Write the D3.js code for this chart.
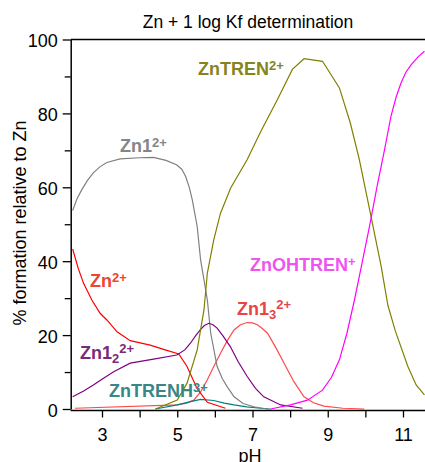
<!DOCTYPE html>
<html>
<head>
<meta charset="utf-8">
<script src="https://cdn.jsdelivr.net/npm/d3@7"></script>
<style>
  body { margin: 0; background: #fff; }
  text { font-family: "Liberation Sans", Arial, Helvetica, sans-serif; }
</style>
</head>
<body>
<script>
// species distribution (pH, % of Zn)
const znPH = [2.22, 2.37, 2.51, 2.73, 2.95, 3.13, 3.40, 3.75, 4.28, 4.68, 5.04, 5.26, 5.53, 5.80, 6.28];
const znPct = [43.3, 38, 34, 29.5, 25.9, 24.1, 20.9, 18.5, 17.3, 16, 14.9, 11.5, 5.5, 1.8, 0.2];

const zn1PH = [2.22, 2.34, 2.46, 2.61, 2.77, 2.95, 3.13, 3.48, 4.0, 4.37, 4.70, 4.98, 5.12, 5.22, 5.32, 5.40, 5.53, 5.62, 5.80, 5.89, 6.06, 6.20, 6.33, 6.51, 6.75, 7.04, 7.40];
const zn1Pct = [53.7, 57, 59.3, 61.8, 63.9, 65.6, 66.7, 67.7, 68, 68.1, 67.3, 66.1, 64.9, 63, 60, 56.6, 49.4, 40.4, 29.5, 20.5, 11.5, 8.2, 6, 3.3, 1.5, 0.6, 0];

const zn12PH = [2.22, 2.50, 2.77, 3.05, 3.31, 3.75, 4.37, 4.99, 5.20, 5.35, 5.50, 5.61, 5.72, 5.84, 5.95, 6.06, 6.22, 6.41, 6.62, 6.86, 7.08, 7.30, 7.75, 8.33];
const zn12Pct = [3.3, 4.8, 6.5, 8.4, 10.1, 12.4, 13.5, 14.6, 16, 17.8, 20, 21.4, 22.6, 23.2, 22.8, 21.9, 19.7, 16.9, 12.8, 8.8, 5.6, 3.3, 1.1, 0.2];

const zn13PH = [2.28, 5.0, 5.25, 5.44, 5.62, 5.80, 5.97, 6.15, 6.33, 6.51, 6.68, 6.86, 7.0, 7.13, 7.26, 7.40, 7.62, 7.84, 8.10, 8.37, 8.62, 8.90, 9.40, 9.97];
const zn13Pct = [0.2, 1.1, 1.6, 2.4, 4.6, 7.9, 11.5, 15.1, 18.5, 21.4, 22.8, 23.4, 23.3, 22.8, 21.8, 20.5, 16.6, 12.4, 7.4, 3.3, 1.7, 0.8, 0.2, 0];

const trenHPH = [4.42, 5.0, 5.35, 5.62, 5.97, 6.25, 6.51, 6.85, 7.22, 7.48];
const trenHPct = [0, 1.1, 2.0, 2.6, 2.3, 1.6, 1.1, 0.6, 0.2, 0];

const trenPH = [4.42, 5.0, 5.26, 5.53, 5.71, 5.80, 5.97, 6.15, 6.42, 6.86, 7.22, 7.66, 8.06, 8.37, 8.86, 9.31, 9.60, 9.84, 10.15, 10.42, 10.60, 10.80, 11.13, 11.35, 11.57];
const trenPct = [0, 2.4, 7, 16, 26.8, 36.8, 45.8, 53, 59.8, 67.5, 75.1, 83.7, 91.9, 94.8, 94.1, 86.9, 77.4, 67.5, 52.1, 38.6, 28, 21, 11.5, 6.5, 3.8];

const ohTrenPH = [7.48, 8.01, 8.46, 8.86, 9.10, 9.31, 9.51, 9.71, 9.91, 10.11, 10.31, 10.51, 10.68, 10.82, 10.95, 11.08, 11.22, 11.40, 11.57];
const ohTrenPct = [0, 1.1, 2.4, 5.1, 8.6, 13.3, 20.5, 29.5, 39.4, 49.4, 60.2, 70.2, 79.2, 84.5, 88.3, 91.2, 93.2, 95.3, 96.8];

const xTicks = [3, 4, 5, 6, 7, 8, 9, 10, 11];
const xTickLabels = ['3', '', '5', '', '7', '', '9', '', '11'];
const yTicks = [0, 10, 20, 30, 40, 50, 60, 70, 80, 90, 100];
const yTickLabels = ['0', '', '20', '', '40', '', '60', '', '80', '', '100'];

const series = [
  { ph: zn13PH, pct: zn13Pct, color: '#ff4a4a' },
  { ph: trenHPH, pct: trenHPct, color: '#008080' },
  { ph: zn1PH, pct: zn1Pct, color: '#808080' },
  { ph: znPH, pct: znPct, color: '#ff0000' },
  { ph: zn12PH, pct: zn12Pct, color: '#800080' },
  { ph: trenPH, pct: trenPct, color: '#808000' },
  { ph: ohTrenPH, pct: ohTrenPct, color: '#ff00ff' }
];

const W = 425, H = 462;
const svg = d3.select('body').append('svg')
  .attr('width', W)
  .attr('height', H);

const x = d3.scaleLinear().domain([2.168, 11.585]).range([70.7, 425]);
const y = d3.scaleLinear().domain([0, 100]).range([409, 39.5]);

svg.append('defs').append('clipPath').attr('id', 'plot')
  .append('rect').attr('x', 70.7).attr('y', 30).attr('width', W - 70.7).attr('height', 390);

// lines
const line = d3.line()
  .x(d => x(d[0]))
  .y(d => y(d[1]));

svg.append('g').attr('clip-path', 'url(#plot)')
  .selectAll('path')
  .data(series)
  .join('path')
  .attr('d', s => line(s.ph.map((p, i) => [p, s.pct[i]])))
  .attr('fill', 'none')
  .attr('stroke', s => s.color)
  .attr('stroke-width', 1.2);

// axes
const xAxis = svg.append('g')
  .attr('transform', 'translate(0,410.5)')
  .call(d3.axisBottom(x).tickValues(xTicks)
    .tickFormat((d, i) => xTickLabels[i])
    .tickSizeInner(7).tickSizeOuter(0).tickPadding(11));

const yAxis = svg.append('g')
  .attr('transform', 'translate(70.7,0)')
  .call(d3.axisLeft(y).tickValues(yTicks)
    .tickFormat((d, i) => yTickLabels[i])
    .tickSizeInner(8).tickSizeOuter(0).tickPadding(5));

yAxis.selectAll('.tick line').attr('x2', (d, i) => yTickLabels[i] ? -8 : -6);

[xAxis, yAxis].forEach(a => {
  a.select('.domain').attr('stroke', '#000').attr('stroke-width', 1.5);
  a.selectAll('.tick line').attr('stroke', '#000').attr('stroke-width', 1.3);
  a.selectAll('text').attr('font-size', 18).attr('fill', '#000')
    .attr('font-family', '"Liberation Sans", Arial, sans-serif');
});
yAxis.selectAll('text').attr('dy', '0.4em');
xAxis.select('.domain').attr('d', 'M70.7,0H425');

// top frame
svg.append('line')
  .attr('x1', 70.7).attr('x2', W)
  .attr('y1', 39.5).attr('y2', 39.5)
  .attr('stroke', '#000').attr('stroke-width', 1.5);

// title and axis titles
svg.append('text')
  .attr('x', 248).attr('y', 28)
  .attr('text-anchor', 'middle')
  .attr('font-size', 17.5)
  .text('Zn + 1 log Kf determination');

svg.append('text')
  .attr('x', 250).attr('y', 462)
  .attr('text-anchor', 'middle')
  .attr('font-size', 18)
  .text('pH');

svg.append('text')
  .attr('transform', 'translate(26,223) rotate(-90)')
  .attr('text-anchor', 'middle')
  .attr('font-size', 18)
  .text('% formation relative to Zn');

// species labels: base text, subscript, superscript
const labels = [
  { base: 'ZnTREN', sub: '', sup: '2+', x: 198, y: 75, color: '#85851f' },
  { base: 'Zn1', sub: '', sup: '2+', x: 120, y: 152, color: '#858585' },
  { base: 'Zn', sub: '', sup: '2+', x: 90, y: 287, color: '#ee4433' },
  { base: 'ZnOHTREN', sub: '', sup: '+', x: 250, y: 271, color: '#ee55ee' },
  { base: 'Zn1', sub: '3', sup: '2+', x: 237, y: 315, color: '#e84444' },
  { base: 'Zn1', sub: '2', sup: '2+', x: 80, y: 359, color: '#7a2a7a' },
  { base: 'ZnTRENH', sub: '', sup: '3+', x: 109, y: 397, color: '#3a8585' }
];

labels.forEach(l => {
  const t = svg.append('text')
    .attr('x', l.x).attr('y', l.y)
    .attr('font-size', 18)
    .attr('font-weight', 'bold')
    .attr('fill', l.color);
  t.append('tspan').text(l.base);
  if (l.sub) {
    t.append('tspan').attr('font-size', 13).attr('dy', 4).text(l.sub);
    t.append('tspan').attr('font-size', 13).attr('dy', -10).text(l.sup);
  } else {
    t.append('tspan').attr('font-size', 13).attr('dy', -5).text(l.sup);
  }
});
</script>
</body>
</html>
